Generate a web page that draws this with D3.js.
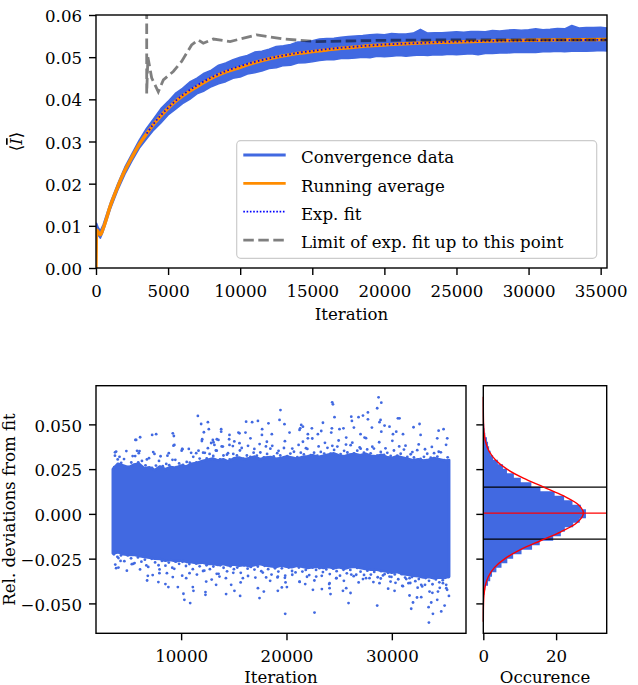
<!DOCTYPE html>
<html>
<head>
<meta charset="utf-8">
<script src="https://cdn.jsdelivr.net/npm/d3@7"></script>
<style>
  body { margin: 0; background: #fff; }
  svg { display: block; }
  text { font-family: "DejaVu Serif", serif; fill: #000; }
</style>
</head>
<body>
<svg id="fig" width="638" height="685"></svg>
<script>
// ---------- convergence run (top panel) ----------
// envelope of the raw convergence trace (min / max of the noisy line)
const convIter = [0, 40, 150, 300, 500, 1000, 1500, 2000, 2500, 3000,
  3500, 4000, 4500, 5000, 5500, 6000, 6500, 7000, 7500, 8000, 8500, 9000, 9500, 10000,
  10500, 11000, 11500, 12000, 12500, 13000, 13500, 14000, 14500, 15000, 15500, 16000,
  16500, 17000, 17500, 18000, 18500, 19000, 19500, 20000, 20500, 21000, 21500, 22000,
  22500, 23000, 23500, 24000, 24500, 25000, 25500, 26000, 26500, 27000, 27500, 28000,
  28500, 29000, 29500, 30000, 30500, 31000, 31500, 32000, 32500, 33000, 33500, 34000,
  34500, 35000, 35440];
const convHi = [0.0000, 0.0106, 0.0096, 0.0088, 0.0103, 0.0155, 0.0199, 0.0239, 0.0271, 0.0303,
  0.0331, 0.0354, 0.0378, 0.0395, 0.0414, 0.0426, 0.0441, 0.0450, 0.0462, 0.0469, 0.0481, 0.0486, 0.0494, 0.0500,
  0.0504, 0.0512, 0.0514, 0.0519, 0.0525, 0.0527, 0.0530, 0.0536, 0.0536, 0.0539, 0.0543, 0.0544,
  0.0545, 0.0547, 0.0549, 0.0550, 0.0551, 0.0553, 0.0554, 0.0553, 0.0556, 0.0555, 0.0555, 0.0557,
  0.0566, 0.0557, 0.0558, 0.0558, 0.0559, 0.0560, 0.0559, 0.0561, 0.0561, 0.0560, 0.0563, 0.0562,
  0.0564, 0.0565, 0.0564, 0.0565, 0.0567, 0.0565, 0.0566, 0.0568, 0.0567, 0.0575, 0.0569, 0.0570,
  0.0570, 0.0571, 0.0569];
const convLo = [0.0000, 0.0084, 0.0078, 0.0071, 0.0087, 0.0140, 0.0184, 0.0222, 0.0254, 0.0284,
  0.0306, 0.0327, 0.0344, 0.0363, 0.0376, 0.0390, 0.0400, 0.0413, 0.0420, 0.0430, 0.0437, 0.0442, 0.0450, 0.0453,
  0.0460, 0.0463, 0.0467, 0.0473, 0.0475, 0.0480, 0.0481, 0.0486, 0.0487, 0.0489, 0.0492, 0.0494,
  0.0494, 0.0497, 0.0497, 0.0498, 0.0500, 0.0499, 0.0502, 0.0501, 0.0502, 0.0504, 0.0502, 0.0504,
  0.0505, 0.0504, 0.0506, 0.0505, 0.0507, 0.0506, 0.0507, 0.0508, 0.0506, 0.0509, 0.0509, 0.0510,
  0.0510, 0.0511, 0.0511, 0.0512, 0.0511, 0.0513, 0.0513, 0.0514, 0.0513, 0.0514, 0.0515, 0.0514,
  0.0515, 0.0516, 0.0515];

// running average of the trace
const avgIter = [0, 40, 300, 500, 1000, 1500, 2000, 2500, 3000, 3500, 4000, 4500, 5000, 5500, 6000,
  7000, 8000, 9000, 10000, 11000, 12000, 13000, 14000, 15000, 16000, 17000, 18000, 19000, 20000,
  22000, 24000, 26000, 28000, 30000, 32000, 35440];
const avgVal = [0, 0.0090, 0.0079, 0.0094, 0.0148, 0.0192, 0.0231, 0.0263, 0.0293, 0.0318, 0.0341, 0.0361,
  0.0379, 0.0395, 0.0408, 0.0430, 0.0450, 0.0465, 0.0476, 0.0487, 0.0496, 0.0503, 0.0509, 0.0513,
  0.0517, 0.0521, 0.0524, 0.0527, 0.0529, 0.0533, 0.0535, 0.0537, 0.0539, 0.0540, 0.0541, 0.0542];

// exponential fit, evaluated from the start of the fit window
const fitIter = [3516, 4000, 5000, 6000, 7000, 8000, 9000, 10000, 12000, 14000, 16000, 18000,
  20000, 22000, 25000, 28000, 31000, 35440];
const fitVal = [0.0319, 0.0342, 0.0380, 0.0410, 0.0433, 0.0452, 0.0467, 0.0479, 0.0497, 0.0510,
  0.0519, 0.0525, 0.0530, 0.0533, 0.0537, 0.0539, 0.0540, 0.0541];

// asymptote of the fit, recomputed as the fit window grows
const limIter = [3516, 3516, 3600, 3860, 4320, 4670, 5360, 5940, 6630, 7090, 7440, 8130, 9300,
  11150, 13000, 15300, 20000, 25000, 30000, 35440];
const limVal = [0.0900, 0.0414, 0.0500, 0.0451, 0.0418, 0.0446, 0.0466, 0.0490, 0.0529, 0.0541,
  0.0533, 0.0543, 0.0537, 0.0553, 0.0543, 0.0537, 0.0540, 0.0541, 0.0541, 0.0541];

const topXTicks = [0, 5000, 10000, 15000, 20000, 25000, 30000, 35000];
const topYTicks = [0, 0.01, 0.02, 0.03, 0.04, 0.05, 0.06];

// ---------- relative deviations from the fit (bottom panels) ----------
// dense core of the scatter cloud
const coreIter = [3516, 4000, 4500, 5000, 5500, 6000, 6500, 7000, 7500, 8000, 8500, 9000, 9500, 10000,
  10500, 11000, 11500, 12000, 12500, 13000, 13500, 14000, 14500, 15000, 15500, 16000, 16500, 17000,
  17500, 18000, 18500, 19000, 19500, 20000, 20500, 21000, 21500, 22000, 22500, 23000, 23500, 24000,
  24500, 25000, 25500, 26000, 26500, 27000, 27500, 28000, 28500, 29000, 29500, 30000, 30500, 31000,
  31500, 32000, 32500, 33000, 33500, 34000, 34500, 35000, 35440];
const coreHi = [0.0250, 0.0280, 0.0270, 0.0260, 0.0275, 0.0280, 0.0255, 0.0260, 0.0245, 0.0265, 0.0250, 0.0262, 0.0258, 0.0270,
  0.0265, 0.0280, 0.0285, 0.0295, 0.0302, 0.0310, 0.0298, 0.0305, 0.0292, 0.0310, 0.0315, 0.0305, 0.0312, 0.0320,
  0.0305, 0.0315, 0.0318, 0.0308, 0.0312, 0.0320, 0.0315, 0.0308, 0.0318, 0.0322, 0.0328, 0.0318, 0.0325, 0.0332,
  0.0338, 0.0326, 0.0322, 0.0332, 0.0335, 0.0328, 0.0336, 0.0325, 0.0322, 0.0330, 0.0318, 0.0312, 0.0322, 0.0315,
  0.0308, 0.0300, 0.0305, 0.0298, 0.0302, 0.0312, 0.0305, 0.0298, 0.0300];
const coreLo = [-0.0220, -0.0215, -0.0225, -0.0230, -0.0228, -0.0235, -0.0240, -0.0245, -0.0250, -0.0252, -0.0262, -0.0258, -0.0265, -0.0260,
  -0.0268, -0.0270, -0.0275, -0.0272, -0.0280, -0.0278, -0.0285, -0.0280, -0.0288, -0.0282, -0.0290, -0.0285, -0.0292, -0.0286,
  -0.0280, -0.0288, -0.0292, -0.0296, -0.0288, -0.0295, -0.0298, -0.0290, -0.0295, -0.0302, -0.0298, -0.0295, -0.0302, -0.0296,
  -0.0304, -0.0298, -0.0306, -0.0298, -0.0295, -0.0302, -0.0308, -0.0312, -0.0310, -0.0318, -0.0322, -0.0328, -0.0325, -0.0335,
  -0.0340, -0.0345, -0.0348, -0.0355, -0.0352, -0.0360, -0.0355, -0.0358, -0.0350];

// samples scattered just outside the dense core: [iteration, deviation]
const fringeHigh = [
  [3650, 0.0261], [3980, 0.0304], [4310, 0.0285], [4580, 0.0306], [4990, 0.0263], [5270, 0.0287], [5640, 0.0323],
  [5930, 0.0288], [6280, 0.0296], [6620, 0.0271], [6950, 0.0311], [7240, 0.0257], [7610, 0.0270], [7900, 0.0296],
  [8260, 0.0266], [8590, 0.0279], [8870, 0.0272], [9180, 0.0302], [9540, 0.0261], [9810, 0.0282], [10180, 0.0274],
  [10530, 0.0290], [10820, 0.0286], [11150, 0.0319], [11460, 0.0288], [11760, 0.0309], [12090, 0.0342], [12430, 0.0310],
  [12700, 0.0335], [13050, 0.0324], [13380, 0.0353], [13690, 0.0305], [14020, 0.0326], [14350, 0.0331], [14610, 0.0304],
  [14950, 0.0335], [15300, 0.0326], [15580, 0.0354], [15920, 0.0309], [16240, 0.0326], [16570, 0.0319], [16880, 0.0342],
  [17190, 0.0325], [17520, 0.0343], [17850, 0.0315], [18160, 0.0335], [18470, 0.0364], [18790, 0.0321], [19120, 0.0339],
  [19410, 0.0326], [19760, 0.0368], [20080, 0.0323], [20370, 0.0337], [20710, 0.0347], [21030, 0.0317], [21360, 0.0342],
  [21650, 0.0332], [21980, 0.0363], [22310, 0.0328], [22620, 0.0342], [22930, 0.0325], [23260, 0.0346], [23580, 0.0337],
  [23890, 0.0369], [24180, 0.0337], [24520, 0.0357], [24830, 0.0376], [25140, 0.0334], [25470, 0.0352], [25780, 0.0343],
  [26090, 0.0384], [26410, 0.0338], [26720, 0.0353], [27040, 0.0364], [27350, 0.0342], [27660, 0.0360], [27990, 0.0338],
  [28300, 0.0365], [28610, 0.0325], [28950, 0.0346], [29260, 0.0330], [29570, 0.0341], [29890, 0.0324], [30200, 0.0354],
  [30520, 0.0325], [30840, 0.0336], [31150, 0.0359], [31470, 0.0318], [31790, 0.0333], [32100, 0.0315], [32410, 0.0356],
  [32730, 0.0307], [33050, 0.0319], [33360, 0.0336], [33690, 0.0314], [34010, 0.0339], [34320, 0.0320], [34650, 0.0344],
  [34970, 0.0300], [35300, 0.0316],
  [3720, 0.0325], [4150, 0.0319], [4800, 0.0351], [5400, 0.0323], [6050, 0.0351], [6750, 0.0304], [7350, 0.0345],
  [8050, 0.0322], [8700, 0.0325], [9450, 0.0302], [10050, 0.0353], [10950, 0.0341], [11650, 0.0353], [12250, 0.0341],
  [12850, 0.0396], [13300, 0.0354], [13850, 0.0377], [14450, 0.0339], [15050, 0.0405], [15750, 0.0368], [16350, 0.0380],
  [16950, 0.0363], [17450, 0.0390], [18050, 0.0377], [18650, 0.0380], [19250, 0.0352], [19850, 0.0406], [20550, 0.0365],
  [21150, 0.0385], [21850, 0.0367], [22450, 0.0421], [23050, 0.0377], [23650, 0.0397], [24350, 0.0380], [24950, 0.0410],
  [25650, 0.0387], [26250, 0.0398], [26950, 0.0371], [27550, 0.0423], [28150, 0.0375], [28800, 0.0400], [29400, 0.0366],
  [30050, 0.0408], [30700, 0.0377], [31300, 0.0381], [31950, 0.0345], [32550, 0.0388], [33150, 0.0361], [33800, 0.0374],
  [34450, 0.0347], [35150, 0.0386]
];
const fringeLow = [
  [3620, -0.0226], [3950, -0.0240], [4290, -0.0232], [4610, -0.0264], [4930, -0.0232], [5250, -0.0248], [5580, -0.0275],
  [5900, -0.0243], [6230, -0.0267], [6560, -0.0256], [6880, -0.0296], [7210, -0.0251], [7530, -0.0271], [7860, -0.0287],
  [8180, -0.0263], [8510, -0.0289], [8830, -0.0272], [9160, -0.0301], [9480, -0.0267], [9810, -0.0279], [10130, -0.0268],
  [10460, -0.0291], [10780, -0.0280], [11110, -0.0309], [11430, -0.0277], [11760, -0.0293], [12080, -0.0319], [12410, -0.0287],
  [12730, -0.0309], [13060, -0.0294], [13380, -0.0335], [13710, -0.0287], [14030, -0.0301], [14360, -0.0321], [14680, -0.0293],
  [15010, -0.0309], [15330, -0.0300], [15660, -0.0329], [15980, -0.0287], [16310, -0.0306], [16630, -0.0296], [16960, -0.0311],
  [17280, -0.0294], [17610, -0.0320], [17930, -0.0290], [18260, -0.0309], [18580, -0.0339], [18910, -0.0304], [19230, -0.0322],
  [19560, -0.0304], [19880, -0.0345], [20210, -0.0300], [20530, -0.0319], [20860, -0.0327], [21180, -0.0300], [21510, -0.0322],
  [21830, -0.0313], [22160, -0.0342], [22480, -0.0300], [22810, -0.0313], [23130, -0.0303], [23460, -0.0325], [23780, -0.0310],
  [24110, -0.0336], [24430, -0.0306], [24760, -0.0320], [25080, -0.0345], [25410, -0.0312], [25730, -0.0332], [26060, -0.0313],
  [26380, -0.0348], [26710, -0.0302], [27030, -0.0323], [27360, -0.0341], [27680, -0.0317], [28010, -0.0339], [28330, -0.0324],
  [28660, -0.0354], [28980, -0.0320], [29310, -0.0337], [29630, -0.0329], [29960, -0.0352], [30280, -0.0338], [30610, -0.0365],
  [30930, -0.0337], [31260, -0.0356], [31580, -0.0387], [31910, -0.0353], [32230, -0.0376], [32560, -0.0364], [32880, -0.0405],
  [33210, -0.0358], [33530, -0.0374], [33860, -0.0393], [34180, -0.0366], [34510, -0.0382], [34830, -0.0370], [35160, -0.0396],
  [35400, -0.0353],
  [3750, -0.0283], [4250, -0.0263], [4850, -0.0317], [5450, -0.0279], [6100, -0.0310], [6700, -0.0288], [7300, -0.0342],
  [7950, -0.0310], [8650, -0.0331], [9350, -0.0307], [10100, -0.0345], [10800, -0.0331], [11500, -0.0339], [12200, -0.0317],
  [12900, -0.0367], [13550, -0.0335], [14250, -0.0359], [14950, -0.0329], [15650, -0.0383], [16350, -0.0347], [17050, -0.0356],
  [17750, -0.0328], [18450, -0.0374], [19150, -0.0355], [19850, -0.0357], [20550, -0.0340], [21250, -0.0380], [21950, -0.0351],
  [22650, -0.0372], [23350, -0.0346], [24050, -0.0392], [24750, -0.0359], [25450, -0.0374], [26150, -0.0339], [26850, -0.0383],
  [27550, -0.0359], [28250, -0.0381], [28950, -0.0361], [29650, -0.0418], [30350, -0.0385], [31050, -0.0404], [31750, -0.0386],
  [32450, -0.0412], [33150, -0.0396], [33850, -0.0441], [34550, -0.0413], [35250, -0.0424]
];

// isolated samples far from the fit: [iteration, deviation]
const highPoints = [
  [11590, 0.0547], [11900, 0.0502], [12540, 0.0512], [12630, 0.0473], [13800, 0.0473], [13800, 0.0459],
  [9210, 0.0450], [9310, 0.0435], [7630, 0.0445], [7250, 0.0441], [6110, 0.0428], [5660, 0.0413],
  [12160, 0.0456], [12000, 0.0417], [14590, 0.0441], [14560, 0.0417], [16170, 0.0515], [16740, 0.0512],
  [17290, 0.0519], [18290, 0.0506], [19340, 0.0525], [19430, 0.0580], [17690, 0.0473], [16110, 0.0454],
  [15540, 0.0450], [16580, 0.0422], [18610, 0.0445], [3830, 0.0348], [5820, 0.0352], [5980, 0.0339],
  [9360, 0.0385], [10100, 0.0363], [10730, 0.0363], [8830, 0.0339], [7470, 0.0335], [13160, 0.0385],
  [13390, 0.0417], [13960, 0.0376], [14910, 0.0379], [11430, 0.0339], [12540, 0.0367], [13010, 0.0413],
  [15540, 0.0395], [28740, 0.0651], [29000, 0.0621], [28610, 0.0590], [24340, 0.0623], [24410, 0.0612],
  [24560, 0.0540], [27730, 0.0567], [27260, 0.0549], [26840, 0.0540], [26150, 0.0543], [26210, 0.0519],
  [27730, 0.0528], [28930, 0.0525], [28830, 0.0512], [30580, 0.0534], [30730, 0.0534], [23460, 0.0509],
  [19810, 0.0501], [21400, 0.0497], [21560, 0.0487], [22410, 0.0478], [23300, 0.0463], [25030, 0.0473],
  [25410, 0.0478], [26400, 0.0482], [28110, 0.0482], [29310, 0.0493], [29780, 0.0487], [32060, 0.0484],
  [32630, 0.0502], [34440, 0.0465], [34910, 0.0473], [32730, 0.0441], [35260, 0.0422], [34310, 0.0422],
  [20290, 0.0454], [21240, 0.0469], [22030, 0.0445], [22030, 0.0422], [22980, 0.0445], [24310, 0.0478],
  [24250, 0.0454], [25670, 0.0426], [27030, 0.0445], [27410, 0.0426], [29000, 0.0459], [30110, 0.0445],
  [31060, 0.0445], [30420, 0.0459], [3730, 0.0344], [5730, 0.0413], [9270, 0.0381], [10120, 0.0361],
  [11970, 0.0407], [13070, 0.0400], [13540, 0.0413], [14590, 0.0385], [15440, 0.0454], [17670, 0.0441],
  [18140, 0.0403], [21300, 0.0478], [21560, 0.0403]
];
const lowPoints = [
  [19880, -0.0558], [22660, -0.0551], [33520, -0.0607], [33900, -0.0558], [33490, -0.0521], [34690, -0.0545],
  [35010, -0.0512], [31840, -0.0530], [28610, -0.0512], [25890, -0.0498], [34310, -0.0480], [33740, -0.0495],
  [32010, -0.0495], [32390, -0.0467], [32790, -0.0465], [31680, -0.0456], [10860, -0.0498], [10310, -0.0480],
  [10220, -0.0446], [12310, -0.0452], [12310, -0.0437], [14270, -0.0448], [15600, -0.0458], [17440, -0.0470],
  [17850, -0.0434], [17290, -0.0415], [19180, -0.0430], [19560, -0.0411], [20040, -0.0409], [19910, -0.0383],
  [22510, -0.0424], [23360, -0.0420], [24090, -0.0415], [24180, -0.0448], [25360, -0.0430], [26080, -0.0442],
  [25670, -0.0415], [28830, -0.0387], [30260, -0.0430], [30990, -0.0402], [35420, -0.0458], [35170, -0.0415],
  [34380, -0.0434], [33580, -0.0434], [6770, -0.0372], [7840, -0.0381], [8510, -0.0392], [8790, -0.0409],
  [9690, -0.0409], [11110, -0.0409], [11170, -0.0430], [13320, -0.0396], [14750, -0.0396], [15060, -0.0430],
  [21240, -0.0378], [21780, -0.0392], [24090, -0.0387], [27260, -0.0364], [29880, -0.0378], [31370, -0.0364],
  [4050, -0.0300], [5320, -0.0281], [6840, -0.0346], [7940, -0.0331], [9210, -0.0353], [10480, -0.0359],
  [12380, -0.0378], [13640, -0.0350], [15860, -0.0359], [18070, -0.0355], [19180, -0.0350], [22820, -0.0350],
  [24720, -0.0359], [26620, -0.0340], [27880, -0.0359], [29160, -0.0344], [29780, -0.0350], [31680, -0.0359],
  [32790, -0.0396], [34850, -0.0387], [3830, -0.0303], [4050, -0.0247]
];

const devXTicks = [10000, 20000, 30000];
const devYTicks = [-0.05, -0.025, 0, 0.025, 0.05];

// histogram of deviations (density), 50 equal bins
const histStart = -0.0603;
const histBinWidth = 0.002514;
const histDensity = [0.02, 0.02, 0.04, 0.05, 0.10, 0.20, 0.37, 0.55, 1.3, 1.9,
  2.4, 3.6, 5.0, 6.6, 8.2, 10.5, 13.4, 15.5, 19.2, 21.3,
  22.4, 24.7, 26.5, 28.2, 28.2, 26.8, 24.5, 22.2, 19.6, 15.7,
  13.2, 10.3, 8.4, 6.5, 5.4, 4.0, 2.7, 2.0, 1.6, 1.3,
  1.0, 0.55, 0.37, 0.25, 0.15, 0.10, 0.10, 0.05, 0.02, 0.02];

// normal fit to the histogram
const gaussDev = [-0.0603, -0.055, -0.050, -0.045, -0.040, -0.035, -0.030, -0.025, -0.020, -0.015, -0.010,
  -0.005, 0.0004, 0.005, 0.010, 0.015, 0.020, 0.025, 0.030, 0.035, 0.040, 0.045, 0.050, 0.055, 0.060, 0.0654];
const gaussDens = [0.004, 0.019, 0.065, 0.20, 0.56, 1.40, 3.05, 5.95, 10.2, 15.7, 21.3,
  25.7, 27.5, 26.2, 22.1, 16.6, 11.0, 6.5, 3.43, 1.59, 0.66, 0.24, 0.079, 0.023, 0.006, 0.001];
const fitMean = [0.0004];
const fitSigmaBounds = [0.0149, -0.0141];
const histXTicks = [0, 20];

// ---------- drawing ----------
const BLUE = "#4169e1", ORANGE = "#ff8c00", FONT = 16.6;
const svg = d3.select("#fig");

function styleAxis(g) {
  g.attr("font-family", null).attr("font-size", null);
  g.select(".domain").remove();
  g.selectAll(".tick line").attr("stroke", "#000").attr("stroke-width", 1.4);
  g.selectAll(".tick text").attr("font-size", FONT).attr("fill", "#000");
}
function frame(x0, y0, x1, y1) {
  svg.append("rect").attr("x", x0).attr("y", y0).attr("width", x1 - x0).attr("height", y1 - y0)
    .attr("fill", "none").attr("stroke", "#000").attr("stroke-width", 1.4);
}

// ===== top panel =====
const T = { l: 96, r: 607, t: 15, b: 268 };
const xT = d3.scaleLinear([0, 35440], [T.l, T.r]);
const yT = d3.scaleLinear([0, 0.06], [T.b, T.t]);

svg.append("clipPath").attr("id", "clipTop").append("rect")
  .attr("x", T.l).attr("y", T.t).attr("width", T.r - T.l).attr("height", T.b - T.t);
const gT = svg.append("g").attr("clip-path", "url(#clipTop)");

gT.append("path")
  .attr("d", d3.area().x(i => xT(convIter[i])).y0(i => yT(convLo[i])).y1(i => yT(convHi[i]))(d3.range(convIter.length)))
  .attr("fill", BLUE).attr("stroke", BLUE).attr("stroke-width", 1.6).attr("stroke-linejoin", "round");

gT.append("path")
  .attr("d", d3.line().x(i => xT(avgIter[i])).y(i => yT(avgVal[i])).curve(d3.curveMonotoneX)(d3.range(avgIter.length)))
  .attr("fill", "none").attr("stroke", ORANGE).attr("stroke-width", 3.4);

gT.append("path")
  .attr("d", d3.line().x(i => xT(fitIter[i])).y(i => yT(fitVal[i])).curve(d3.curveMonotoneX)(d3.range(fitIter.length)))
  .attr("fill", "none").attr("stroke", "#0000ff").attr("stroke-width", 1.8).attr("stroke-dasharray", "1.6,2.4");

gT.append("path")
  .attr("d", d3.line().x(i => xT(limIter[i])).y(i => yT(limVal[i]))(d3.range(limIter.length)))
  .attr("fill", "none").attr("stroke", "#000").attr("stroke-opacity", 0.5)
  .attr("stroke-width", 2.8).attr("stroke-dasharray", "10.5,4.5");

svg.append("g").attr("transform", `translate(0,${T.b})`)
  .call(d3.axisBottom(xT).tickValues(topXTicks).tickFormat(d3.format("d")).tickSize(7).tickPadding(10).tickSizeOuter(0))
  .call(styleAxis);
svg.append("g").attr("transform", `translate(${T.l},0)`)
  .call(d3.axisLeft(yT).tickValues(topYTicks).tickFormat(d3.format(".2f")).tickSize(7).tickPadding(7).tickSizeOuter(0))
  .call(styleAxis)
  .selectAll(".tick text").attr("dy", "0.4em");
frame(T.l, T.t, T.r, T.b);

svg.append("text").attr("x", (T.l + T.r) / 2).attr("y", 320).attr("text-anchor", "middle")
  .attr("font-size", FONT).text("Iteration");
const ylab = svg.append("text").attr("transform", `translate(22,${(T.t + T.b) / 2}) rotate(-90)`)
  .attr("text-anchor", "middle").attr("font-size", FONT);
ylab.append("tspan").text("⟨");
ylab.append("tspan").attr("font-style", "italic").attr("text-decoration", "overline").text("I");
ylab.append("tspan").text("⟩");

// legend
const L = { x: 236.7, y: 140.7, w: 360, h: 117.6 };
svg.append("rect").attr("x", L.x).attr("y", L.y).attr("width", L.w).attr("height", L.h)
  .attr("rx", 4).attr("fill", "#fff").attr("fill-opacity", 0.8).attr("stroke", "#cccccc").attr("stroke-width", 1.2);
const legendItems = [
  { label: "Convergence data", stroke: BLUE, w: 2.8, dash: null, op: 1 },
  { label: "Running average", stroke: ORANGE, w: 2.8, dash: null, op: 1 },
  { label: "Exp. fit", stroke: "#0000ff", w: 1.8, dash: "1.6,1.7", op: 1 },
  { label: "Limit of exp. fit up to this point", stroke: "#000", w: 2.8, dash: "10.5,4.5", op: 0.5 }
];
legendItems.forEach((d, i) => {
  const y = 155 + i * 28.35;
  svg.append("line").attr("x1", 243.3).attr("x2", 285.7).attr("y1", y).attr("y2", y)
    .attr("stroke", d.stroke).attr("stroke-width", d.w).attr("stroke-dasharray", d.dash)
    .attr("stroke-opacity", d.op);
  svg.append("text").attr("x", 301).attr("y", y + 8.3).attr("font-size", FONT).text(d.label);
});

// ===== bottom-left: scatter of deviations =====
const B = { l: 96, r: 466, t: 385.7, b: 633.3 };
const xB = d3.scaleLinear([1920, 37040], [B.l, B.r]);
const yB = d3.scaleLinear([-0.0667, 0.0716], [B.b, B.t]);

svg.append("path")
  .attr("d", d3.area().x(i => xB(coreIter[i])).y0(i => yB(coreLo[i])).y1(i => yB(coreHi[i]))(d3.range(coreIter.length)))
  .attr("fill", BLUE).attr("stroke", BLUE).attr("stroke-width", 2.6).attr("stroke-linejoin", "round");

svg.append("g").selectAll("circle").data(fringeHigh.concat(fringeLow, highPoints, lowPoints)).join("circle")
  .attr("cx", d => xB(d[0])).attr("cy", d => yB(d[1])).attr("r", 1.4).attr("fill", BLUE);

svg.append("g").attr("transform", `translate(0,${B.b})`)
  .call(d3.axisBottom(xB).tickValues(devXTicks).tickFormat(d3.format("d")).tickSize(7).tickPadding(10).tickSizeOuter(0))
  .call(styleAxis);
svg.append("g").attr("transform", `translate(${B.l},0)`)
  .call(d3.axisLeft(yB).tickValues(devYTicks).tickFormat(d3.format(".3f")).tickSize(7).tickPadding(7).tickSizeOuter(0))
  .call(styleAxis)
  .selectAll(".tick text").attr("dy", "0.4em");
frame(B.l, B.t, B.r, B.b);

svg.append("text").attr("x", (B.l + B.r) / 2).attr("y", 682.5).attr("text-anchor", "middle")
  .attr("font-size", FONT).text("Iteration");
svg.append("text").attr("transform", `translate(15,${(B.t + B.b) / 2}) rotate(-90)`)
  .attr("text-anchor", "middle").attr("font-size", FONT).text("Rel. deviations from fit");

// ===== bottom-right: histogram =====
const H = { l: 483.3, r: 606.7 };
const xH = d3.scaleLinear([0, 33.9], [H.l, H.r]);

const hp = d3.path();
hp.moveTo(xH(0), yB(histStart));
histDensity.forEach((d, k) => {
  const e0 = histStart + k * histBinWidth, e1 = e0 + histBinWidth;
  hp.lineTo(xH(d), yB(e0));
  hp.lineTo(xH(d), yB(e1));
});
hp.lineTo(xH(0), yB(histStart + histDensity.length * histBinWidth));
hp.closePath();
svg.append("path").attr("d", hp.toString()).attr("fill", BLUE);

svg.append("g").selectAll("line").data(fitSigmaBounds).join("line")
  .attr("x1", H.l).attr("x2", H.r).attr("y1", d => yB(d)).attr("y2", d => yB(d))
  .attr("stroke", "#000").attr("stroke-width", 1.3);
svg.append("g").selectAll("line").data(fitMean).join("line")
  .attr("x1", H.l).attr("x2", H.r).attr("y1", d => yB(d)).attr("y2", d => yB(d))
  .attr("stroke", "red").attr("stroke-width", 1.3);
svg.append("path")
  .attr("d", d3.line().x(i => xH(gaussDens[i])).y(i => yB(gaussDev[i])).curve(d3.curveCatmullRom.alpha(0.5))(d3.range(gaussDev.length)))
  .attr("fill", "none").attr("stroke", "red").attr("stroke-width", 1.4);

svg.append("g").attr("transform", `translate(0,${B.b})`)
  .call(d3.axisBottom(xH).tickValues(histXTicks).tickFormat(d3.format("d")).tickSize(7).tickPadding(10).tickSizeOuter(0))
  .call(styleAxis);
svg.append("g").attr("transform", `translate(${H.l},0)`)
  .call(d3.axisLeft(yB).tickValues(devYTicks).tickFormat("").tickSize(7).tickSizeOuter(0))
  .call(styleAxis);
frame(H.l, B.t, H.r, B.b);

svg.append("text").attr("x", (H.l + H.r) / 2).attr("y", 682.5).attr("text-anchor", "middle")
  .attr("font-size", FONT).text("Occurence");
</script>
</body>
</html>
